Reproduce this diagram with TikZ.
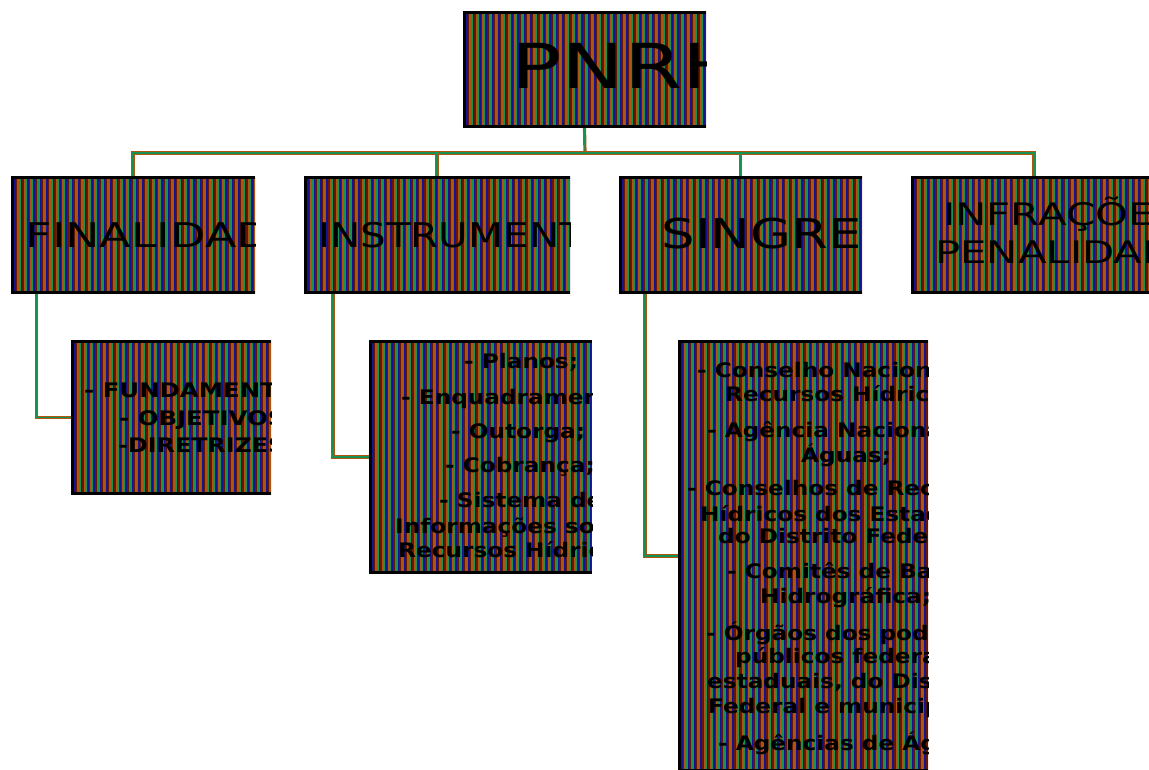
\documentclass[tikz,border=0pt]{standalone}
\usepackage{fontspec}
\setmainfont{DejaVu Sans}
\usepackage{graphicx}
\usetikzlibrary{fit}

% stripe colours of the panels
\definecolor{stOr}{RGB}{172,86,18}
\definecolor{stGr}{RGB}{22,146,82}
\definecolor{stBl}{RGB}{20,20,146}
\definecolor{stMr}{RGB}{104,22,4}

\tikzset{
  wire/.style={draw=stOr, double=stGr, double distance=1.2pt, line width=1pt},
  boxedge/.style={draw=black, line width=3pt},
  panelnode/.style={inner sep=0pt, outer sep=0pt},
  hdr/.style={anchor=base west, inner sep=0pt, font=\fontsize{34}{34}\selectfont},
  lst/.style={anchor=base west, inner sep=0pt, font=\bfseries\fontsize{20}{20}\selectfont},
}

% horizontally widened text
\newcommand\widen[2]{\scalebox{#1}[1]{#2}}
\newcommand\widelst[1]{\scalebox{1.16}[1]{#1}}

% striped panel: name, x0, y0, x1, y1 (y grows downwards)
\newcommand\panel[5]{%
  \fill[stMr] (#2,#3) rectangle (#4,#5);
  \begin{scope}
    \clip (#2,#3) rectangle (#4,#5);
    \foreach \i in {0,...,43}{
      \pgfmathsetmacro\xa{#2+6.4*\i}
      \fill[stOr] (\xa,#3) rectangle (\xa+1.6,#5);
      \fill[stGr] (\xa+1.6,#3) rectangle (\xa+3.2,#5);
      \fill[stBl] (\xa+3.2,#3) rectangle (\xa+4.8,#5);
    }
  \end{scope}
  \draw[boxedge] (#4,#3+1.5) -- (#2+1.5,#3+1.5) -- (#2+1.5,#5-1.5) -- (#4,#5-1.5);
  \node[panelnode, fit={(#2,#3) (#4,#5)}] (#1) {};
}

\begin{document}
\begin{tikzpicture}[x=1pt, y=-1pt]
\useasboundingbox (0,0) rectangle (1149,769);
\fill[white] (0,0) rectangle (1149,769);
\clip (0,0) rectangle (1149,769);

% ---- panels ----
\panel{pnrh}{463}{11}{706}{128}
\panel{fin}{11}{176}{255}{294}
\panel{inst}{304}{176}{570}{294}
\panel{sing}{619}{176}{862}{294}
\panel{infr}{911}{176}{1157}{294}
\panel{fund}{71}{340}{271}{495}
\panel{tool}{369}{340}{592}{574}
\panel{memb}{678}{340}{928}{772}

% ---- connectors ----
\coordinate (bus) at (585,153);
\draw[wire] (pnrh.south) -- (bus);
\draw[wire] (fin.north) |- (bus) -| (infr.north);
\draw[wire] (inst.north) -- (inst.north |- bus);
\draw[wire] (sing.north) -- (sing.north |- bus);
\draw[wire] ([xshift=25.5pt]fin.south west) |- (fund.west);
\draw[wire] ([xshift=29pt]inst.south west) |- (tool.west);
\draw[wire] ([xshift=26pt]sing.south west) |- (memb.west);

% ---- titles ----
\begin{scope}
  \clip (463,11) rectangle (706,128);
  \node[anchor=base west, inner sep=0pt, font=\fontsize{62}{62}\selectfont] (tPnrh) at (511,88) {\widen{1.35}{PNRH}};
\end{scope}
\begin{scope}
  \clip (11,176) rectangle (255,294);
  \node[hdr] (tFin) at (25.5,247) {\widen{1.35}{FINALIDADE}};
\end{scope}
\begin{scope}
  \clip (304,176) rectangle (570,294);
  \node[hdr] (tInst) at (318,247) {\widen{1.19}{INSTRUMENTOS}};
\end{scope}
\begin{scope}
  \clip (619,176) rectangle (862,294);
  \node[hdr, font=\fontsize{41}{41}\selectfont] (tSing) at (661.5,248) {\widen{1.29}{SINGREH}};
\end{scope}
\begin{scope}
  \clip (911,176) rectangle (1157,294);
  \node[hdr, font=\fontsize{31}{31}\selectfont] (tInf1) at (943,225) {\widen{1.35}{INFRAÇÕES E}};
  \node[hdr, font=\fontsize{31}{31}\selectfont] (tInf2) at (935,263) {\widen{1.35}{PENALIDADES}};
\end{scope}

% ---- lists ----
\begin{scope}
  \clip (71,340) rectangle (271,495);
  \node[lst] (f1) at (84,397) {\widen{1.22}{- FUNDAMENTOS;}};
  \node[lst] (f2) at (119,425) {\widen{1.22}{- OBJETIVOS;}};
  \node[lst] (f3) at (118,452) {\widen{1.19}{-DIRETRIZES.}};
\end{scope}
\begin{scope}
  \clip (369,340) rectangle (592,574);
  \node[lst] (i1) at (464,368) {\widelst{- Planos;}};
  \node[lst] (i2) at (401,404) {\widelst{- Enquadramento;}};
  \node[lst] (i3) at (451,438) {\widelst{- Outorga;}};
  \node[lst] (i4) at (445,472) {\widelst{- Cobrança;}};
  \node[lst] (i5) at (439,507) {\widelst{- Sistema de}};
  \node[lst] (i6) at (395,533) {\widelst{Informações sobre}};
  \node[lst] (i7) at (398,557) {\widelst{Recursos Hídricos.}};
\end{scope}
\begin{scope}
  \clip (678,340) rectangle (928,772);
  \node[lst] (m1) at (697,377) {\widelst{- Conselho Nacional de}};
  \node[lst] (m2) at (725,401) {\widelst{Recursos Hídricos;}};
  \node[lst] (m3) at (707,437) {\widelst{- Agência Nacional de}};
  \node[lst] (m4) at (801,462) {\widelst{Águas;}};
  \node[lst] (m5) at (687,495) {\widelst{- Conselhos de Recursos}};
  \node[lst] (m6) at (700,521) {\widelst{Hídricos dos Estados e}};
  \node[lst] (m7) at (718,543) {\widelst{do Distrito Federal;}};
  \node[lst] (m8) at (727,578) {\widelst{- Comitês de Bacia}};
  \node[lst] (m9) at (760,603) {\widelst{Hidrográfica;}};
  \node[lst] (m10) at (706,640) {\widelst{- Órgãos dos poderes}};
  \node[lst] (m11) at (735,663) {\widelst{públicos federais,}};
  \node[lst] (m12) at (707,688) {\widelst{estaduais, do Distrito}};
  \node[lst] (m13) at (708,713) {\widelst{Federal e municipais;}};
  \node[lst] (m14) at (718,750) {\widelst{- Agências de Água.}};
\end{scope}
\end{tikzpicture}
\end{document}
